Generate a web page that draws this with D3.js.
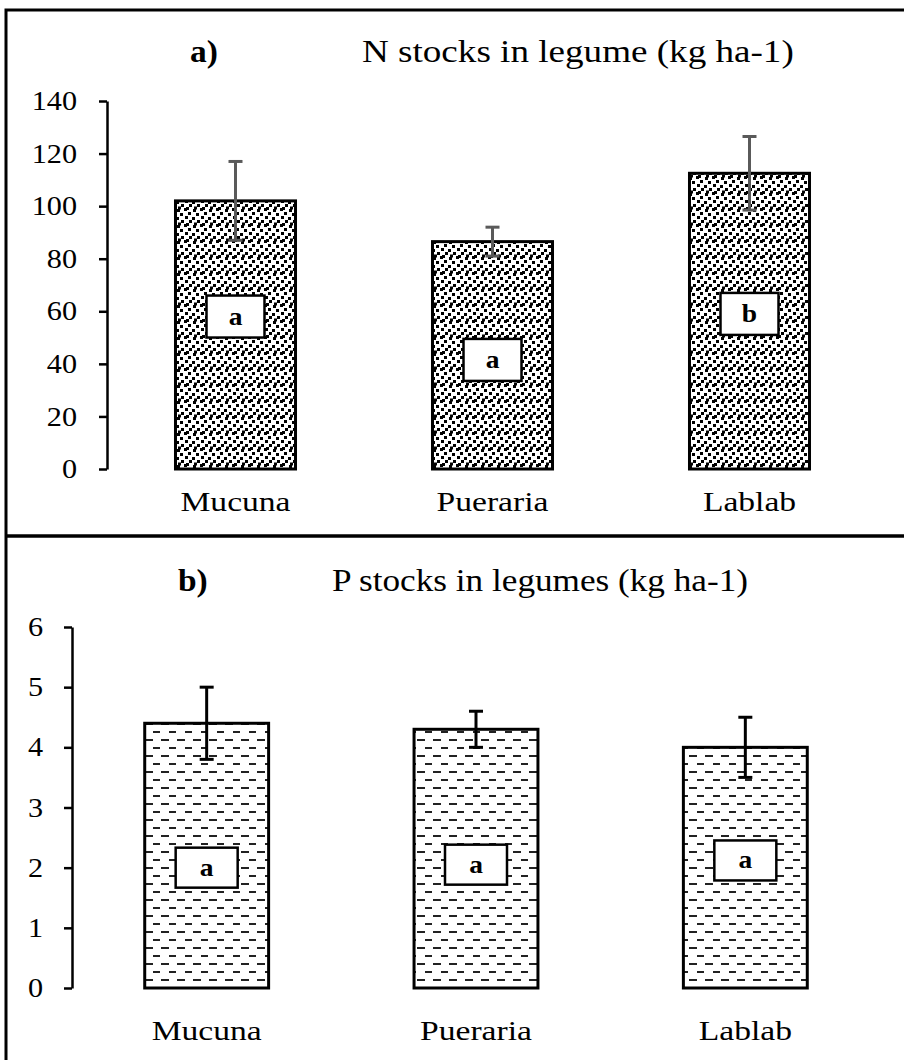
<!DOCTYPE html>
<html>
<head>
<meta charset="utf-8">
<script src="https://cdn.jsdelivr.net/npm/d3@7"></script>
<style>
  html, body { margin: 0; padding: 0; background: #fff; }
  svg { display: block; }
  text { font-family: "Liberation Serif", "Times New Roman", serif; fill: #000; }
</style>
</head>
<body>
<svg id="chart" width="904" height="1060"></svg>
<script>
// ---------- data ----------
const categories = ["Mucuna", "Pueraria", "Lablab"];

const nTitleTag = "a)";
const nTitle = "N stocks in legume (kg ha-1)";
const nValues = [102, 86.5, 112.5];
const nErrors = [15, 5.5, 14];
const nLetters = ["a", "a", "b"];
const nLetterPos = [58, 41.5, 59];
const nTicks = [0, 20, 40, 60, 80, 100, 120, 140];

const pTitleTag = "b)";
const pTitle = "P stocks in legumes (kg ha-1)";
const pValues = [4.4, 4.3, 4.0];
const pErrors = [0.6, 0.3, 0.5];
const pLetters = ["a", "a", "a"];
const pLetterPos = [2.0, 2.05, 2.12];
const pTicks = [0, 1, 2, 3, 4, 5, 6];

// ---------- setup ----------
const svg = d3.select("#chart");

svg.append("rect").attr("x", 0).attr("y", 0).attr("width", 904).attr("height", 1060).attr("fill", "#fff");

const defs = svg.append("defs");
// confetti pattern
const conf = defs.append("pattern").attr("id", "confetti")
  .attr("patternUnits", "userSpaceOnUse").attr("width", 16).attr("height", 16);
conf.append("rect").attr("width", 16).attr("height", 16).attr("fill", "#fff");
[[1,1],[8,0],[12,4],[4,5],[9,8],[0,9],[5,12],[13,12],[2,14.5],[10,15]].forEach(([x,y]) => {
  conf.append("rect").attr("x", x).attr("y", y).attr("width", 3).attr("height", 3).attr("fill", "#000");
  if (y > 13) conf.append("rect").attr("x", x).attr("y", y - 16).attr("width", 3).attr("height", 3).attr("fill", "#000");
});
// dashed horizontal pattern
const dash = defs.append("pattern").attr("id", "dashh")
  .attr("patternUnits", "userSpaceOnUse").attr("width", 16).attr("height", 16);
dash.append("rect").attr("width", 16).attr("height", 16).attr("fill", "#fff");
dash.append("rect").attr("x", 1).attr("y", 3).attr("width", 8).attr("height", 2).attr("fill", "#222");
dash.append("rect").attr("x", 9).attr("y", 11).attr("width", 8).attr("height", 2).attr("fill", "#222");

function stretched(sel, x, y, sx) {
  return sel.attr("transform", `translate(${x},${y}) scale(${sx},1)`);
}

function drawPanel(cfg) {
  const g = svg.append("g");
  const x = d3.scaleBand().domain(categories).range(cfg.xRange)
    .paddingInner(cfg.padIn).paddingOuter(cfg.padIn / 2);
  const y = d3.scaleLinear().domain([cfg.ticks[0], cfg.ticks[cfg.ticks.length - 1]]).range(cfg.yRange);

  // titles
  stretched(g.append("text").attr("font-size", 31).attr("font-weight", "bold").text(cfg.tag), cfg.tagX, cfg.titleY, 1.08);
  stretched(g.append("text").attr("font-size", 32).text(cfg.title), cfg.titleX, cfg.titleY, cfg.titleSX);

  // axis
  const tickSX = 1.12;
  const ax = g.append("g").attr("transform", `translate(${cfg.xRange[0]},0)`)
    .call(d3.axisLeft(y).tickValues(cfg.ticks).tickFormat(d3.format("d"))
      .tickSize(8).tickSizeOuter(0).tickPadding(cfg.tickPad));
  ax.select(".domain").attr("stroke", "#000").attr("stroke-width", 2.5);
  ax.selectAll(".tick line").attr("stroke", "#000").attr("stroke-width", 2.5);
  ax.selectAll(".tick text").each(function() {
    const t = d3.select(this);
    const tx = +t.attr("x");
    t.attr("x", tx / tickSX).attr("transform", `scale(${tickSX},1)`)
      .attr("font-size", 27).attr("fill", "#000");
  });

  const data = categories.map((c, i) => ({ c, v: cfg.values[i], e: cfg.errors[i], l: cfg.letters[i], lp: cfg.letterPos[i] }));
  const cx = d => x(d.c) + x.bandwidth() / 2;

  // bars
  g.selectAll("rect.bar").data(data).join("rect").attr("class", "bar")
    .attr("x", d => x(d.c)).attr("width", x.bandwidth())
    .attr("y", d => y(d.v)).attr("height", d => y(0) - y(d.v))
    .attr("fill", `url(#${cfg.pattern})`).attr("stroke", "#000").attr("stroke-width", 3);

  // letter boxes
  const lb = g.selectAll("g.lbl").data(data).join("g").attr("class", "lbl")
    .attr("transform", d => `translate(${cx(d)},${y(d.lp)})`);
  lb.append("rect").attr("x", -cfg.boxW / 2).attr("y", -cfg.boxH / 2)
    .attr("width", cfg.boxW).attr("height", cfg.boxH)
    .attr("fill", "#fff").attr("stroke", "#000").attr("stroke-width", 2.5);
  lb.append("text").attr("text-anchor", "middle").attr("y", 8)
    .attr("font-size", 25).attr("font-weight", "bold")
    .attr("transform", "scale(1.1,1)").text(d => d.l);

  // error bars
  const eb = g.selectAll("g.err").data(data).join("g").attr("class", "err")
    .attr("stroke", cfg.errColor).attr("stroke-width", 3);
  eb.append("line").attr("x1", cx).attr("x2", cx).attr("y1", d => y(d.v + d.e)).attr("y2", d => y(d.v - d.e));
  eb.append("line").attr("x1", d => cx(d) - 7).attr("x2", d => cx(d) + 7).attr("y1", d => y(d.v + d.e)).attr("y2", d => y(d.v + d.e));
  eb.append("line").attr("x1", d => cx(d) - 7).attr("x2", d => cx(d) + 7).attr("y1", d => y(d.v - d.e)).attr("y2", d => y(d.v - d.e));

  // category labels
  g.selectAll("text.cat").data(data).join("text").attr("class", "cat")
    .attr("text-anchor", "middle").attr("font-size", 28)
    .attr("transform", d => `translate(${cx(d)},${cfg.catY}) scale(1.2,1)`)
    .text(d => d.c);
}

drawPanel({
  tag: nTitleTag, title: nTitle, tagX: 190, titleX: 362, titleY: 62, titleSX: 1.16,
  xRange: [107, 878], yRange: [469, 101], padIn: 0.533, tickPad: 22,
  ticks: nTicks, values: nValues, errors: nErrors, letters: nLetters, letterPos: nLetterPos,
  pattern: "confetti", errColor: "#5a5a5a", boxW: 58, boxH: 42, catY: 511
});

drawPanel({
  tag: pTitleTag, title: pTitle, tagX: 178, titleX: 332, titleY: 591, titleSX: 1.1,
  xRange: [72, 880], yRange: [988, 627], padIn: 0.54, tickPad: 21,
  ticks: pTicks, values: pValues, errors: pErrors, letters: pLetters, letterPos: pLetterPos,
  pattern: "dashh", errColor: "#000", boxW: 62, boxH: 40, catY: 1040
});

// frame
svg.append("rect").attr("x", 6).attr("y", 10).attr("width", 920).attr("height", 1080)
  .attr("fill", "none").attr("stroke", "#000").attr("stroke-width", 3);
svg.append("line").attr("x1", 6).attr("x2", 904).attr("y1", 536).attr("y2", 536)
  .attr("stroke", "#000").attr("stroke-width", 3.5);
</script>
</body>
</html>
